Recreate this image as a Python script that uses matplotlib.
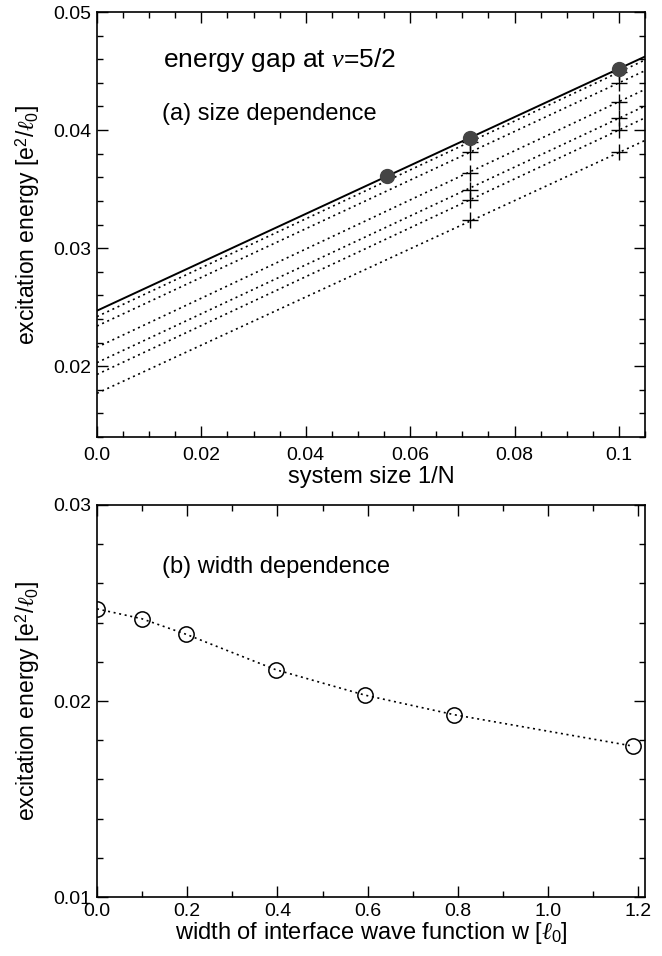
import numpy as np
import matplotlib
matplotlib.use("Agg")
import matplotlib.pyplot as plt
from matplotlib.ticker import MultipleLocator, FixedLocator, FixedFormatter

plt.rcParams['font.family'] = ['Liberation Sans', 'DejaVu Sans']
plt.rcParams['mathtext.fontset'] = 'custom'
plt.rcParams['mathtext.rm'] = 'Liberation Sans'
plt.rcParams['mathtext.it'] = 'Liberation Serif:italic'
plt.rcParams['mathtext.sf'] = 'Liberation Sans'

# (a) size dependence, w = 0 (filled circles, solid fit)
invN_w0 = [1/18, 1/14, 1/10]
E_w0 = [0.0361, 0.0393, 0.0452]
# finite widths: values at 1/N = 1/14 and 1/10 (plus signs)
invN_w = [1/14, 1/10]
E_14 = [0.0390, 0.0381, 0.0364, 0.0349, 0.0341, 0.0324]
E_10 = [0.0449, 0.0440, 0.0424, 0.0410, 0.0400, 0.0381]

# (b) width dependence: extrapolated gaps
width = [0.0, 0.099, 0.198, 0.396, 0.594, 0.792, 1.188]
gap = [0.0247, 0.0242, 0.0234, 0.0216, 0.0203, 0.0193, 0.0177]

fig = plt.figure(figsize=(6.62, 9.56), dpi=100)
ax1 = fig.add_axes([97/662, 1-437/956, 548/662, 425/956])
ax2 = fig.add_axes([97/662, 1-897/956, 548/662, 392/956])

xl = np.array([0.0, 0.105])
# solid extrapolation for w=0
b0 = gap[0]
k0 = (E_w0[-1] - b0) / invN_w0[-1]
ax1.plot(xl, b0 + k0*xl, color='black', lw=1.4)
for i in range(len(E_10)):
    b = gap[i+1]
    k = (E_10[i] - b) / invN_w[-1]
    ax1.plot(xl, b + k*xl, color='black', lw=1.2, ls=(0, (1.2, 2.2)))
    ax1.plot(invN_w, [E_14[i], E_10[i]], ls='none', marker='+', ms=11,
             mew=1.0, color='black')
ax1.plot(invN_w0, E_w0, ls='none', marker='o', ms=10, color='#444444')

ax1.set_xlim(0, 0.105)
ax1.set_ylim(0.014, 0.05)
ax1.xaxis.set_major_locator(FixedLocator([0, 0.02, 0.04, 0.06, 0.08, 0.1]))
ax1.xaxis.set_major_formatter(FixedFormatter(['0.0', '0.02', '0.04', '0.06', '0.08', '0.1']))
ax1.xaxis.set_minor_locator(MultipleLocator(0.005))
ax1.yaxis.set_major_locator(FixedLocator([0.02, 0.03, 0.04, 0.05]))
ax1.yaxis.set_major_formatter(FixedFormatter(['0.02', '0.03', '0.04', '0.05']))
ax1.yaxis.set_minor_locator(MultipleLocator(0.002))
ax1.set_xlabel('system size 1/N', fontsize=17, labelpad=2)
ax1.set_ylabel(r'excitation energy [e$^{\rm 2}$/$\ell_{\rm 0}$]', fontsize=16.5, labelpad=8)
ax1.text(0.12, 0.888, r'energy gap at $\nu$=5/2', transform=ax1.transAxes,
         fontsize=19, va='center')
ax1.text(0.119, 0.76, '(a) size dependence', transform=ax1.transAxes,
         fontsize=17, va='center')

ax2.plot(width, gap, color='black', lw=1.2, ls=(0, (1.2, 2.2)),
         marker='o', ms=11, mfc='none', mec='black', mew=1.1)
ax2.set_xlim(0, 1.215)
ax2.set_ylim(0.01, 0.03)
ax2.xaxis.set_major_locator(FixedLocator([0, 0.2, 0.4, 0.6, 0.8, 1.0, 1.2]))
ax2.xaxis.set_major_formatter(FixedFormatter(['0.0', '0.2', '0.4', '0.6', '0.8', '1.0', '1.2']))
ax2.xaxis.set_minor_locator(MultipleLocator(0.1))
ax2.yaxis.set_major_locator(FixedLocator([0.01, 0.02, 0.03]))
ax2.yaxis.set_major_formatter(FixedFormatter(['0.01', '0.02', '0.03']))
ax2.yaxis.set_minor_locator(MultipleLocator(0.002))
ax2.set_xlabel(r'width of interface wave function w [$\ell_{\rm 0}$]', fontsize=17, labelpad=0)
ax2.set_ylabel(r'excitation energy [e$^{\rm 2}$/$\ell_{\rm 0}$]', fontsize=16.5, labelpad=8)
ax2.text(0.119, 0.842, '(b) width dependence', transform=ax2.transAxes,
         fontsize=17, va='center')

for ax in (ax1, ax2):
    ax.tick_params(which='both', direction='in', top=True, right=True,
                   labelsize=14, width=1.0)
    ax.tick_params(which='major', length=8, pad=4)
    ax.tick_params(which='minor', length=4)
    for s in ax.spines.values():
        s.set_linewidth(1.2)
ax1.tick_params(axis='x', which='major', pad=7)

fig.savefig('out.png', dpi=100)
